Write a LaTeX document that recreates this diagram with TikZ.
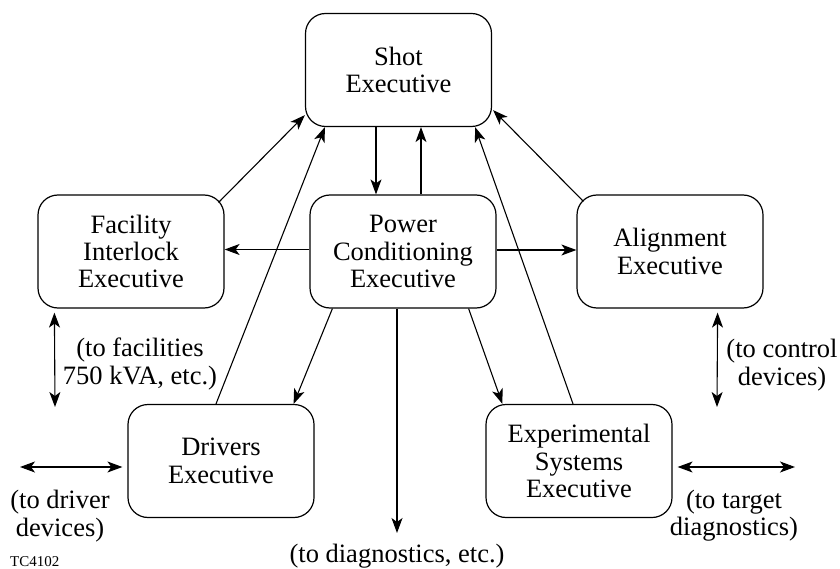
\documentclass[tikz,border=0pt]{standalone}
\usepackage{fontspec}
\setmainfont{Liberation Serif}
\newfontfamily\tms{Liberation Serif}
\usetikzlibrary{arrows.meta,calc}
\begin{document}
\begin{tikzpicture}[x=1pt,y=-1pt,
  box/.style={draw,line width=1.2pt,rounded corners=20pt,minimum width=186pt,minimum height=113pt,align=center,inner sep=0pt,font=\tms\fontsize{26.5}{27.3}\selectfont},
  tip/.tip={Stealth[length=15pt,width=11pt,inset=4pt]},
  arr/.style={line width=1.1pt,-tip},
  dbl/.style={line width=1.1pt,tip-tip},
  lbl/.style={align=center,inner sep=0pt,font=\tms\fontsize{26.5}{27.3}\selectfont}]
\useasboundingbox (0,0) rectangle (840,569);
% boxes
\node[box] (shot) at (398.5,70) {Shot\\Executive};
\node[box] (fac) at (131,251.5) {Facility\\Interlock\\Executive};
\node[box] (pow) at (403,251.5) {Power\\Conditioning\\Executive};
\node[box] (ali) at (670,251.5) {Alignment\\Executive};
\node[box] (drv) at (221,461) {Drivers\\Executive};
\node[box] (exp) at (579,461) {Experimental\\Systems\\Executive};
% labels
\node[lbl] (lfac) at (140,364) {(to facilities\\750 kVA, etc.)};
\node[lbl] (ldrv) at (60,516) {(to driver\\devices)};
\node[lbl] (lali) at (782,365) {(to control\\devices)};
\node[lbl] (lexp) at (734,516) {(to target\\diagnostics)};
\node[lbl] (ldia) at (397,556) {(to diagnostics, etc.)};
\node[inner sep=0pt,anchor=base west,font=\tms\fontsize{15}{16}\selectfont] (tc) at (10,566) {TC4102};
% free ends
\coordinate (diagend) at (397,533);
\coordinate (facend) at (55,407);
\coordinate (aliend) at (717,407);
\coordinate (drvend) at (20,467);
\coordinate (expend) at (795,467);
% connectors
\draw[arr] ([xshift=-22.5pt]shot.south) -- ([xshift=-22.5pt]shot.south |- pow.north);
\draw[arr] ([xshift=18pt]pow.north) -- ([xshift=18pt]pow.north |- shot.south);
\draw[arr] ([xshift=-6pt,yshift=-8pt]fac.north east) -- ([yshift=12pt]shot.south west);
\draw[arr] ([xshift=-5pt]drv.north) -- ([xshift=20pt]shot.south west);
\draw[arr] ([xshift=7pt,yshift=-7pt]ali.north west) -- ([xshift=1pt,yshift=17pt]shot.south east);
\draw[arr] ([xshift=-6pt]exp.north) -- ([xshift=-17pt]shot.south east);
\draw[arr] ([yshift=2pt]pow.west) -- ([yshift=2pt]fac.east);
\draw[arr] ([yshift=1.5pt]pow.east) -- ([yshift=1.5pt]ali.west);
\draw[arr] ([xshift=23pt]pow.south west) -- ([xshift=-21pt]drv.north east);
\draw[arr] ([xshift=-28pt]pow.south east) -- ([xshift=17pt]exp.north west);
\draw[arr] ([xshift=-6pt]pow.south) -- (diagend);
\draw[dbl] ([xshift=17pt,yshift=-4pt]fac.south west) -- (facend);
\draw[dbl] ([xshift=-46pt,yshift=-4pt]ali.south east) -- (aliend);
\draw[dbl] (drvend) -- ([xshift=-5pt]drv.west |- drvend);
\draw[dbl] ([xshift=5pt]exp.east |- expend) -- (expend);
\end{tikzpicture}
\end{document}
